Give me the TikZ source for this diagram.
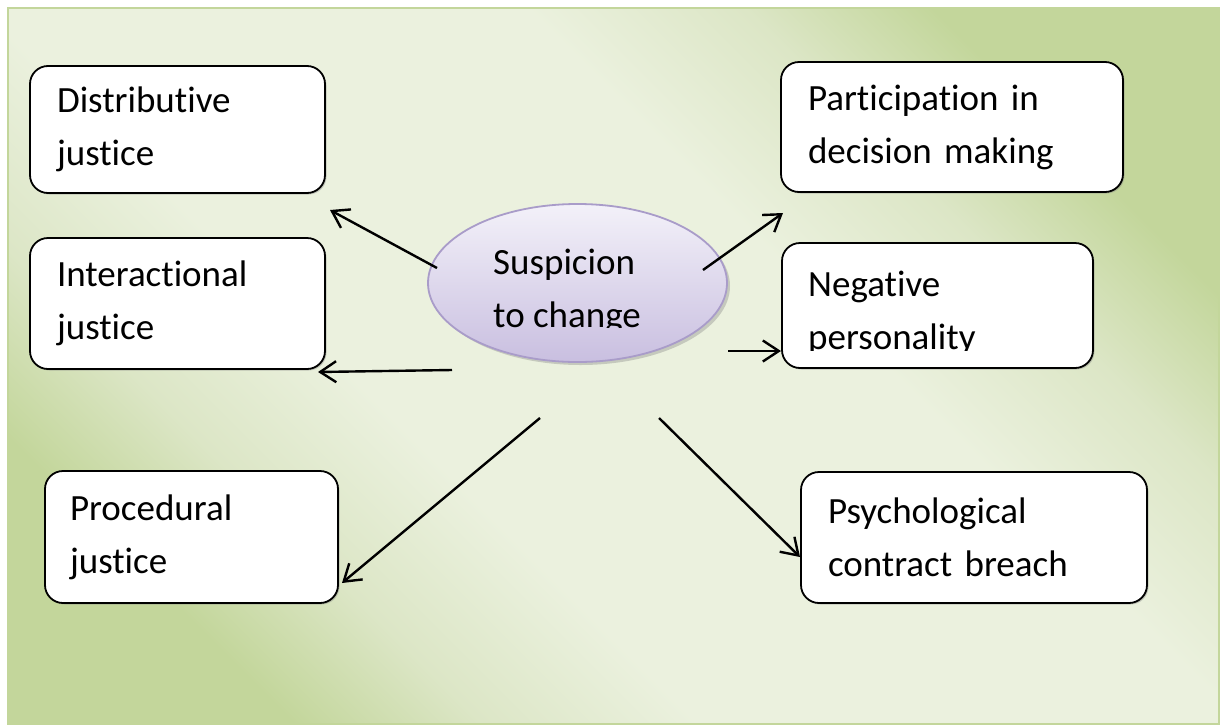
\documentclass[tikz,border=0pt]{standalone}
\usepackage{fontspec}
\setmainfont{Carlito}[Ligatures=NoCommon]
\usetikzlibrary{arrows.meta,shadows,shapes.geometric}
\definecolor{gdark}{HTML}{C3D69B}
\definecolor{gmid}{HTML}{DCE6C6}
\definecolor{glight}{HTML}{EBF1DE}
\definecolor{frameg}{HTML}{C3D69B}
\definecolor{lavtop}{HTML}{F3F1F9}
\definecolor{lavbot}{HTML}{C9BFE0}
\definecolor{lavline}{HTML}{A99CC9}
\pgfdeclareverticalshading{bgshade}{100bp}{color(0bp)=(gdark); color(25bp)=(gdark); color(32bp)=(gmid); color(40bp)=(glight); color(60bp)=(glight); color(68bp)=(gmid); color(75bp)=(gdark); color(100bp)=(gdark)}
\begin{document}
\begin{tikzpicture}[x=1pt,y=-1pt,
  bigtext/.style={font=\fontsize{37}{53}\selectfont},
  box/.style={draw=black, line width=1.8pt, rounded corners=18pt, fill=white,
    align=left, inner xsep=27pt, inner ysep=0pt, bigtext,
    drop shadow={shadow xshift=1.5pt, shadow yshift=-1.5pt, opacity=0.4}},
  plain/.style={inner sep=0pt, align=left, anchor=north west, bigtext},
  conn/.style={line width=2.4pt, -{Straight Barb[length=16pt,width=21pt,line width=2.4pt]}},
]
\useasboundingbox (0,0) rectangle (1223,726);
\fill[white] (0,0) rectangle (1223,726);
\shade[shading=bgshade, shading angle=-45] (8,8) rectangle (1219,724);
\draw[frameg, line width=2pt] (8,8) rectangle (1219,724);

% boxes
\node[box, text width=241pt, minimum height=127pt] (dist) at (177.5,129.5) {Distributive\\justice};
\node[box, text width=241pt, minimum height=131pt] (inter) at (177.5,303.5) {Interactional\\justice};
\node[box, inner xsep=25pt, text width=243pt, minimum height=132pt] (proc) at (191.5,537) {Procedural\\justice};
\node[box, text width=288pt, minimum height=130pt] (part) at (952,127) {Participation in\\decision making};
\node[box, text width=257pt, minimum height=125pt] (neg) at (937.5,305.5) {};
\node[box, text width=292pt, minimum height=131pt] (psy) at (974,537.5) {Psychological\\contract breach};

\begin{scope}
  \clip (790,250) rectangle (1085,350);
  \node[plain] (negtext) at (808,271) {Negative\\personality};
\end{scope}

% central ellipse
\node[ellipse, draw=lavline, line width=1.8pt, minimum width=299pt, minimum height=158pt,
  top color=lavtop, bottom color=lavbot,
  drop shadow={shadow xshift=3pt, shadow yshift=-3pt, opacity=0.35}] (susp) at (577.5,283) {};
\begin{scope}
  \clip (440,210) rectangle (720,327);
  \node[plain] (susptext) at (493,249) {Suspicion\\to change};
\end{scope}

% connector ends
\coordinate (s1) at (437,268);
\coordinate (s2) at (452,370);
\coordinate (s3) at (703,270);
\coordinate (s4) at (728,351);
\coordinate (s5) at (540,418);
\coordinate (s6) at (659,418);
\coordinate (e1) at (330,210);
\coordinate (e2) at (318,372);
\coordinate (e3) at (783,213);
\coordinate (e4) at (781,351);
\coordinate (e5) at (342,583);
\coordinate (e6) at (800,557);

\draw[conn] (s1) -- (e1);
\draw[conn] (s2) -- (e2);
\draw[conn] (s3) -- (e3);
\draw[conn] (s4) -- (e4);
\draw[conn] (s5) -- (e5);
\draw[conn] (s6) -- (e6);
\end{tikzpicture}
\end{document}
